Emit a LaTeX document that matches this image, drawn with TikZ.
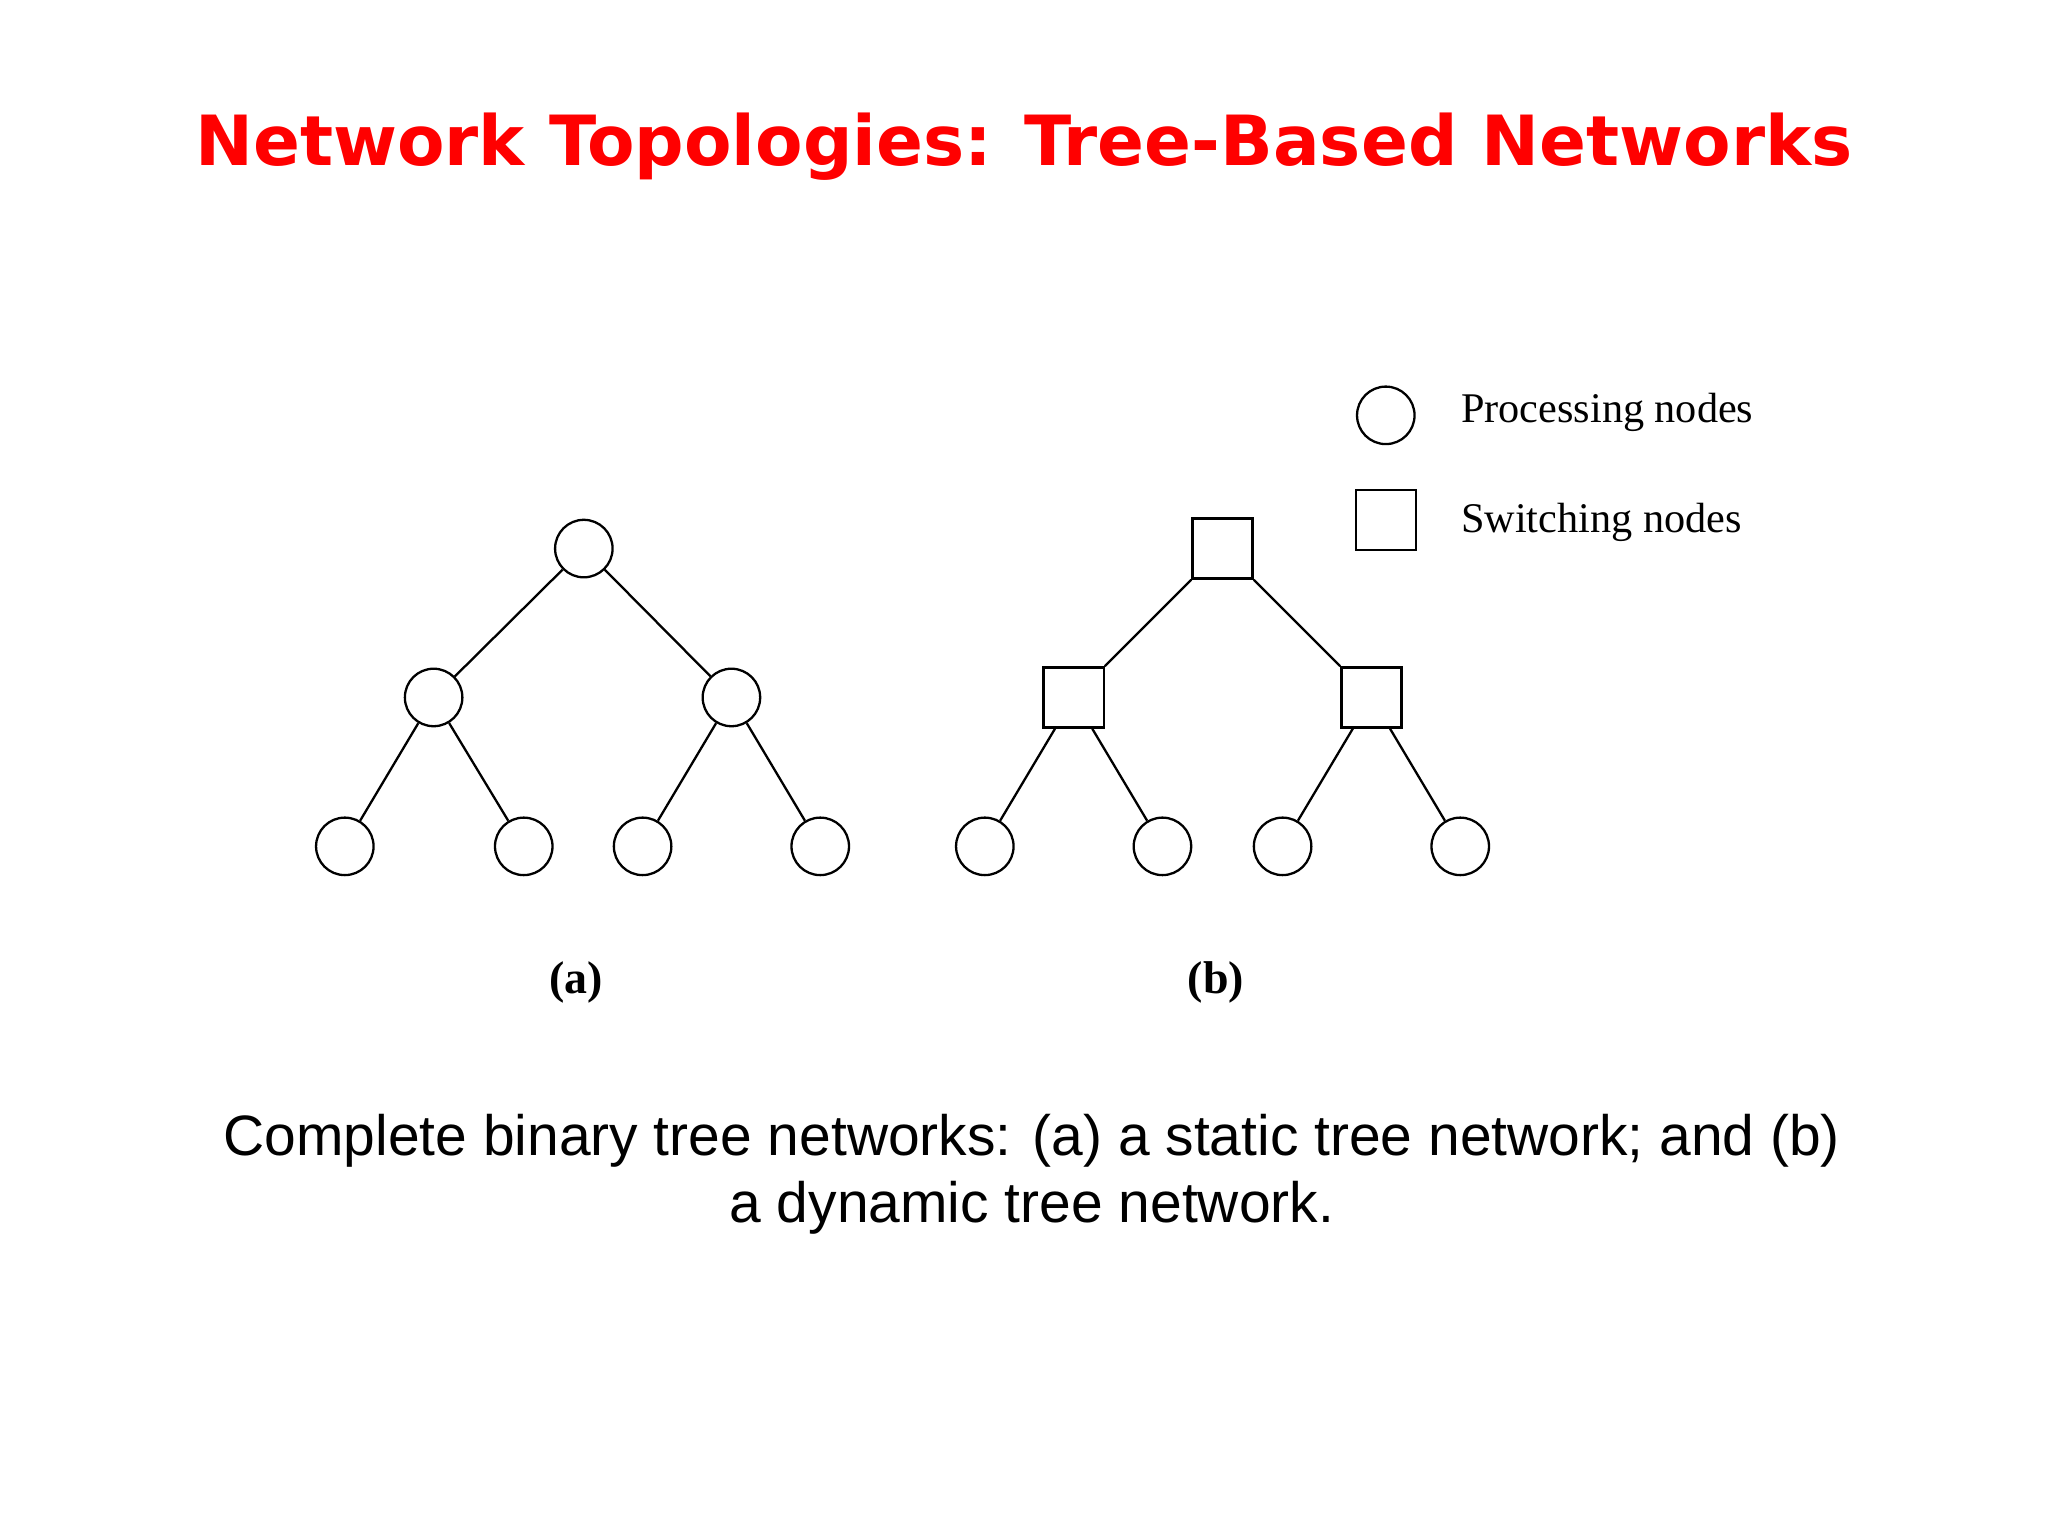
\documentclass[tikz,border=0pt]{standalone}
\usepackage{fontspec}
\usepackage{graphicx}
\setmainfont{Liberation Serif}
\newfontfamily\capfont{Liberation Sans}
\newfontfamily\titlefont{DejaVu Sans}
\begin{document}
\begin{tikzpicture}[x=0.01cm,y=-0.01cm,
  pn/.style={draw,circle,inner sep=0pt,minimum size=0.44cm,line width=0.5pt},
  sn/.style={draw,rectangle,minimum size=0.46cm,inner sep=0pt,line width=0.5pt},
  ln/.style={line width=0.5pt},
  lbl/.style={font=\fontsize{9.2}{11}\selectfont}]
\useasboundingbox (0,0) rectangle (1568,1176);
\node[text=red,inner sep=0pt] (title) at (784,112) {\resizebox{12.68cm}{!}{\titlefont\bfseries\fontsize{19.5}{23}\selectfont Network Topologies: Tree-Based Networks}};
% tree a
\node[pn] (ar) at (447,420) {};
\node[pn] (al) at (332,534) {};
\node[pn] (aR) at (560,534) {};
\node[pn] (a1) at (264,648) {};
\node[pn] (a2) at (401,648) {};
\node[pn] (a3) at (492,648) {};
\node[pn] (a4) at (628,648) {};
\draw[ln] (ar)--(al) (ar)--(aR) (al)--(a1) (al)--(a2) (aR)--(a3) (aR)--(a4);
% tree b
\node[sn] (br) at (936,420) {};
\node[sn] (bl) at (822,534) {};
\node[sn] (bR) at (1050,534) {};
\node[pn] (b1) at (754,648) {};
\node[pn] (b2) at (890,648) {};
\node[pn] (b3) at (982,648) {};
\node[pn] (b4) at (1118,648) {};
\draw[ln] (br.south west)--(bl.north east) (br.south east)--(bR.north west)
  (bl)--(b1) (bl)--(b2) (bR)--(b3) (bR)--(b4);
% legend
\node[pn] (lp) at (1061,318) {};
\node[sn] (ls) at (1061,398) {};
\node[anchor=west,lbl,inner sep=0pt] (tp) at (1118,316) {Processing nodes};
\node[anchor=west,lbl,inner sep=0pt] (ts) at (1118,400) {Switching nodes};
\node[lbl,font=\bfseries] (la) at (441,752) {(a)};
\node[lbl,font=\bfseries] (lb) at (931,752) {(b)};
\node[font=\capfont\fontsize{12.4}{14.6}\selectfont,align=center] (cap) at (790,899) {Complete binary tree networks: (a) a static tree network; and (b)\\a dynamic tree network.};
\end{tikzpicture}
\end{document}
